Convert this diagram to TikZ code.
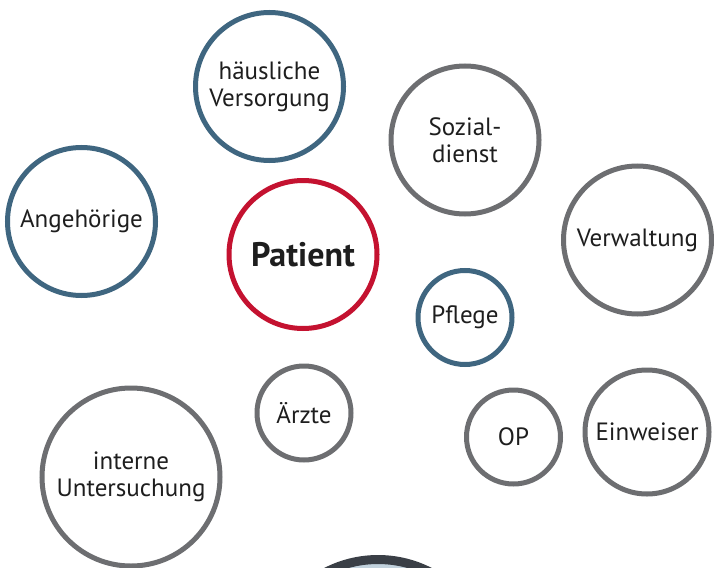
\documentclass[tikz,border=0pt]{standalone}
\usepackage{fontspec}
\setmainfont{PT Sans}
\definecolor{cblue}{HTML}{3F6680}
\definecolor{cgray}{HTML}{6D6E71}
\definecolor{cred}{HTML}{C41230}
\definecolor{ctext}{HTML}{1E1E1E}
\definecolor{cdark}{HTML}{3A3F46}
\definecolor{clight}{HTML}{C2D2DD}
\begin{document}
\begin{tikzpicture}[x=1pt,y=-1pt,
  bub/.style={circle,line width=5pt,fill=white,inner sep=0pt,align=center,text=ctext,
    font=\fontsize{25}{27}\selectfont},
  bblue/.style={bub,draw=cblue},
  bgray/.style={bub,draw=cgray},
  bred/.style={bub,draw=cred,font=\fontsize{34}{36}\bfseries\selectfont}]
\useasboundingbox (0,0) rectangle (714,567);
\node[bblue,minimum size=148pt] (haus) at (269.5,86.5) {häusliche\\Versorgung};
\node[bgray,minimum size=148pt] (sozial) at (465,140) {Sozial-\\dienst};
\node[bblue,minimum size=148pt] (ange) at (81.5,221.5) {Angehörige};
\node[bred,minimum size=148pt] (pat) at (303,254.5) {Patient};
\node[bgray,minimum size=148pt] (verw) at (637.5,240) {Verwaltung};
\node[bblue,minimum size=94pt] (pflege) at (465,317.5) {Pflege};
\node[bgray,minimum size=94pt] (aerzte) at (304,413) {Ärzte};
\node[bgray,minimum size=94pt] (op) at (513.5,437) {OP};
\node[bgray,minimum size=124pt] (einw) at (647,432) {Einweiser};
\node[bgray,minimum size=178pt] (intern) at (131,477) {interne\\Untersuchung};
\node[circle,draw=cdark,line width=9pt,fill=clight,minimum size=227pt,inner sep=0pt] (bottom) at (378,673) {};
\end{tikzpicture}
\end{document}
